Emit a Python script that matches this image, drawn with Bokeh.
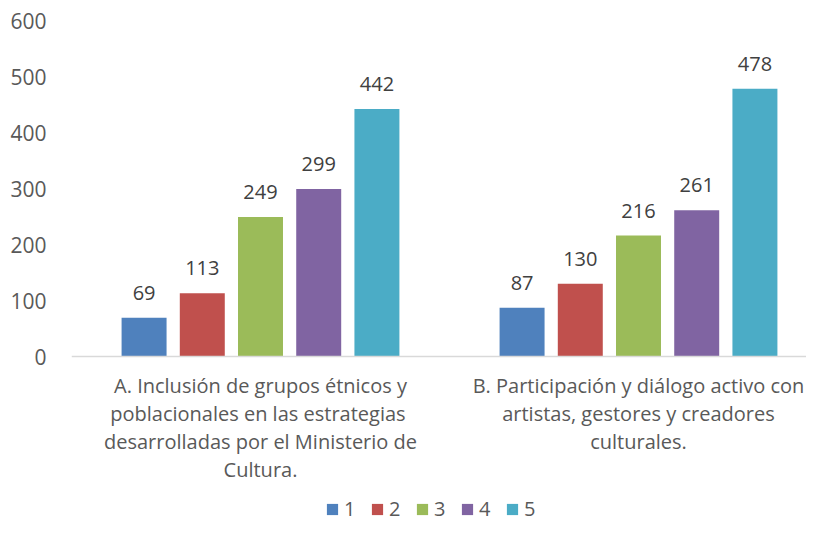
from bokeh.plotting import figure
from bokeh.models import Range1d, FixedTicker, ColumnDataSource, Legend, LegendItem, Span
from bokeh.transform import dodge
from bokeh.core.properties import value
from bokeh.embed import file_html
from bokeh.resources import INLINE

categories = ["A", "B"]
category_labels = [
    "A. Inclusión de grupos étnicos y\npoblacionales  en las estrategias\ndesarrolladas por el Ministerio de\nCultura.",
    "B. Participación y diálogo activo con\nartistas, gestores y creadores\nculturales.",
]
series = ["1", "2", "3", "4", "5"]
values_1 = [69, 87]
values_2 = [113, 130]
values_3 = [249, 216]
values_4 = [299, 261]
values_5 = [442, 478]
colors = ["#4F81BD", "#C0504D", "#9BBB59", "#8064A2", "#4BACC6"]
y_ticks = [0, 100, 200, 300, 400, 500, 600]

all_values = [values_1, values_2, values_3, values_4, values_5]
cat_pos = [i + 0.5 for i in range(len(categories))]

FONT = "Open Sans"

# frame extends below zero so that category labels and legend live inside it
px_per_unit = 336 / 600
below_px = 166
p = figure(frame_width=735, frame_height=336 + below_px, output_backend="svg", toolbar_location=None,
           x_range=Range1d(0, 735 / 378), y_range=Range1d(-below_px / px_per_unit, 600),
           min_border_left=71, min_border_right=0, min_border_top=20, min_border_bottom=0)
p.outline_line_color = None
p.grid.visible = False
p.background_fill_color = "white"
p.border_fill_color = "white"
p.xaxis.visible = False

# baseline (category axis line)
p.add_layout(Span(location=0, dimension="width", line_color="#D9D9D9", line_width=1.5))

renderers = []
step = 0.154
width = 0.119
for i, (name, vals, col) in enumerate(zip(series, all_values, colors)):
    src = ColumnDataSource(dict(x=cat_pos, top=vals, lab=[str(v) for v in vals]))
    off = (i - 2) * step
    r = p.vbar(x=dodge("x", off), top="top", width=width, source=src,
               fill_color=col, line_color=None)
    p.text(x=dodge("x", off), y="top", text="lab", source=src,
           text_align="center", text_baseline="alphabetic", y_offset=-25,
           text_font=value(FONT), text_font_size="20px", text_color="#404040")
    renderers.append((name, r))

# category labels
cat_src = ColumnDataSource(dict(x=cat_pos, y=[0] * len(cat_pos), lab=category_labels))
p.text(x="x", y="y", text="lab", source=cat_src, text_align="center", text_baseline="top",
       y_offset=15, text_font=value(FONT), text_font_size="20px", text_color="#595959",
       text_line_height=1.04)

# y axis
p.yaxis.ticker = FixedTicker(ticks=y_ticks)
p.yaxis.axis_line_color = None
p.yaxis.major_tick_line_color = None
p.yaxis.minor_tick_line_color = None
p.yaxis.major_label_standoff = 19
p.yaxis.major_label_text_font = FONT
p.yaxis.major_label_text_font_size = "21px"
p.yaxis.major_label_text_font_style = "normal"
p.yaxis.major_label_text_color = "#595959"

legend = Legend(items=[LegendItem(label=n, renderers=[r]) for n, r in renderers],
                orientation="horizontal", location=(254, 0))
legend.border_line_color = None
legend.background_fill_alpha = 0
legend.label_text_font = FONT
legend.label_text_font_size = "20px"
legend.label_text_color = "#595959"
legend.glyph_width = 14
legend.glyph_height = 14
legend.label_standoff = 5
legend.spacing = 6
legend.padding = 0
legend.margin = 0
p.add_layout(legend, "center")

open("out.html", "w").write(file_html(p, INLINE))
